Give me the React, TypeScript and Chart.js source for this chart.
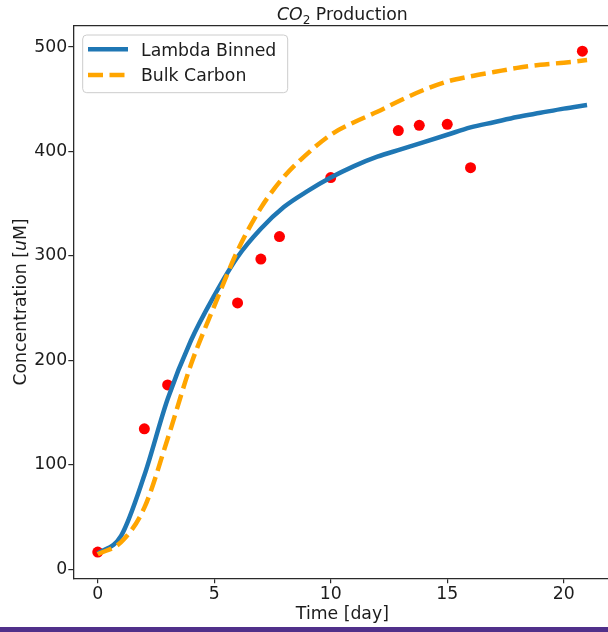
import { useEffect, useRef } from "react";
import { Chart, registerables } from "chart.js";

Chart.register(...registerables);

// Model output, one value per day
const modelDays = [0, 1, 2, 3, 4, 5, 6, 7, 8, 9, 10, 11, 12, 13, 14, 15, 16, 17, 18, 19, 20, 21];
const lambdaBinned = [15, 32, 90, 163, 219, 262, 299, 326, 347, 362, 375, 386, 395, 402, 409, 416, 423, 428, 433, 437, 441, 444.5];
const bulkCarbon = [14.5, 26, 59, 125, 196, 252, 305, 346, 376, 398, 416, 428, 438, 449, 459, 467, 472, 476, 480, 483, 485, 487.5];

// Measured CO2 concentrations
const obsDays = [0, 2, 3, 6, 7, 7.8, 10, 12.9, 13.8, 15, 16, 20.8];
const obsValues = [16.5, 134.5, 176.5, 255, 297, 318.5, 375, 420, 425, 426, 384.5, 496];

const xTicks = [0, 5, 10, 15, 20];
const yTicks = [0, 100, 200, 300, 400, 500];

const seriesNames = ["Lambda Binned", "Bulk Carbon"];

const FONT_FAMILY = '"DejaVu Sans", sans-serif';
const FS = 17.3;
const TEXT = "#1c1c1c";
const SPINE = "#2a2a2a";
const BLUE = "#1f77b4";
const ORANGE = "#ffa500";
const DASH = [15, 6.5];

type Run = { text: string; italic?: boolean; scale?: number; dy?: number };

function drawRuns(ctx: CanvasRenderingContext2D, runs: Run[], cx: number, baseline: number) {
  const fontFor = (r: Run) =>
    `${r.italic ? "oblique " : ""}${FS * (r.scale ?? 1)}px ${FONT_FAMILY}`;
  let total = 0;
  const widths = runs.map((r) => {
    ctx.font = fontFor(r);
    const w = ctx.measureText(r.text).width;
    total += w;
    return w;
  });
  let x = cx - total / 2;
  ctx.textAlign = "left";
  ctx.textBaseline = "alphabetic";
  runs.forEach((r, i) => {
    ctx.font = fontFor(r);
    ctx.fillText(r.text, x, baseline + (r.dy ?? 0));
    x += widths[i];
  });
}

const decorPlugin = {
  id: "decor",
  afterDraw(chart: any) {
    const { ctx, chartArea: a } = chart;
    ctx.save();

    // top and right spines
    ctx.strokeStyle = SPINE;
    ctx.lineWidth = 1.3;
    ctx.beginPath();
    ctx.moveTo(a.left, a.top);
    ctx.lineTo(a.right, a.top);
    ctx.lineTo(a.right, a.bottom);
    ctx.stroke();

    const cx = (a.left + a.right) / 2;
    ctx.fillStyle = TEXT;

    // title: CO₂ Production
    drawRuns(
      ctx,
      [
        { text: "CO", italic: true },
        { text: "2", scale: 0.7, dy: 3.5 },
        { text: " Production" },
      ],
      cx,
      20
    );

    // x axis label
    drawRuns(ctx, [{ text: "Time [day]" }], cx, 619);

    // y axis label, rotated
    ctx.save();
    ctx.translate(25.5, (a.top + a.bottom) / 2);
    ctx.rotate(-Math.PI / 2);
    drawRuns(
      ctx,
      [{ text: "Concentration [" }, { text: "u", italic: true }, { text: "M]" }],
      0,
      0
    );
    ctx.restore();

    // legend
    const lx = 82.7;
    const ly = 35;
    const lw = 205;
    const lh = 57.7;
    ctx.beginPath();
    ctx.roundRect(lx, ly, lw, lh, 4);
    ctx.fillStyle = "rgba(255,255,255,0.8)";
    ctx.fill();
    ctx.strokeStyle = "#cccccc";
    ctx.lineWidth = 1;
    ctx.stroke();

    const rows = [
      { y: 49.3, color: BLUE, dash: [] as number[] },
      { y: 75, color: ORANGE, dash: DASH },
    ];
    rows.forEach((row, i) => {
      ctx.beginPath();
      ctx.setLineDash(row.dash);
      ctx.lineDashOffset = 0;
      ctx.strokeStyle = row.color;
      ctx.lineWidth = 4.5;
      ctx.lineCap = "butt";
      ctx.moveTo(88, row.y);
      ctx.lineTo(128, row.y);
      ctx.stroke();
      ctx.setLineDash([]);
      ctx.fillStyle = TEXT;
      ctx.font = `${FS}px ${FONT_FAMILY}`;
      ctx.textAlign = "left";
      ctx.textBaseline = "alphabetic";
      ctx.fillText(seriesNames[i], 141, row.y + 0.365 * FS);
    });

    ctx.restore();
  },
};

export default function App() {
  const canvasRef = useRef<HTMLCanvasElement | null>(null);

  useEffect(() => {
    const canvas = canvasRef.current;
    if (!canvas) return;

    const toPoints = (xs: number[], ys: number[]) => xs.map((x, i) => ({ x, y: ys[i] }));

    const chart = new Chart(canvas, {
      type: "line",
      data: {
        datasets: [
          {
            label: seriesNames[1],
            data: toPoints(modelDays, bulkCarbon),
            borderColor: ORANGE,
            borderWidth: 4.5,
            borderDash: DASH,
            borderCapStyle: "butt",
            borderJoinStyle: "round",
            pointRadius: 0,
            cubicInterpolationMode: "monotone",
            fill: false,
            order: 0,
          },
          {
            label: seriesNames[0],
            data: toPoints(modelDays, lambdaBinned),
            borderColor: BLUE,
            borderWidth: 4.5,
            borderCapStyle: "butt",
            borderJoinStyle: "round",
            pointRadius: 0,
            cubicInterpolationMode: "monotone",
            fill: false,
            order: 1,
          },
          {
            label: "Observed",
            data: toPoints(obsDays, obsValues),
            showLine: false,
            pointRadius: 5.5,
            pointBackgroundColor: "#ff0000",
            pointBorderWidth: 0,
            borderColor: "#ff0000",
            order: 2,
          },
        ],
      },
      options: {
        responsive: false,
        animation: false,
        events: [],
        layout: { padding: { top: 25.7, right: 8.5, left: 0, bottom: 0 } },
        plugins: {
          legend: { display: false },
          title: { display: false },
          tooltip: { enabled: false },
        },
        scales: {
          x: {
            type: "linear",
            min: -1.05,
            max: 22.05,
            afterBuildTicks: (s: any) => {
              s.ticks = xTicks.map((v) => ({ value: v }));
            },
            afterFit: (s: any) => {
              s.height = 632 - 578.3;
            },
            ticks: {
              color: TEXT,
              font: { family: FONT_FAMILY, size: FS },
              padding: 1,
              maxRotation: 0,
              autoSkip: false,
            },
            grid: {
              drawOnChartArea: false,
              drawTicks: true,
              tickLength: 5,
              tickColor: SPINE,
              lineWidth: 1.2,
            },
            border: { display: true, color: SPINE, width: 1.3 },
          },
          y: {
            type: "linear",
            min: -8.6,
            max: 520.4,
            afterBuildTicks: (s: any) => {
              s.ticks = yTicks.map((v) => ({ value: v }));
            },
            afterFit: (s: any) => {
              s.width = 73.3;
            },
            ticks: {
              color: TEXT,
              font: { family: FONT_FAMILY, size: FS },
              padding: 1,
              autoSkip: false,
            },
            grid: {
              drawOnChartArea: false,
              drawTicks: true,
              tickLength: 5,
              tickColor: SPINE,
              lineWidth: 1.2,
            },
            border: { display: true, color: SPINE, width: 1.3 },
          },
        },
      },
      plugins: [decorPlugin],
    });

    return () => chart.destroy();
  }, []);

  return (
    <div
      style={{
        position: "fixed",
        left: 0,
        top: 0,
        width: 608,
        height: 632,
        overflow: "hidden",
        background: "#ffffff",
      }}
    >
      <canvas ref={canvasRef} width={620} height={632} style={{ display: "block", width: 620, height: 632 }} />
      <div
        style={{
          position: "absolute",
          left: 0,
          bottom: 0,
          width: 608,
          height: 5,
          background: "#50308a",
        }}
      />
    </div>
  );
}
